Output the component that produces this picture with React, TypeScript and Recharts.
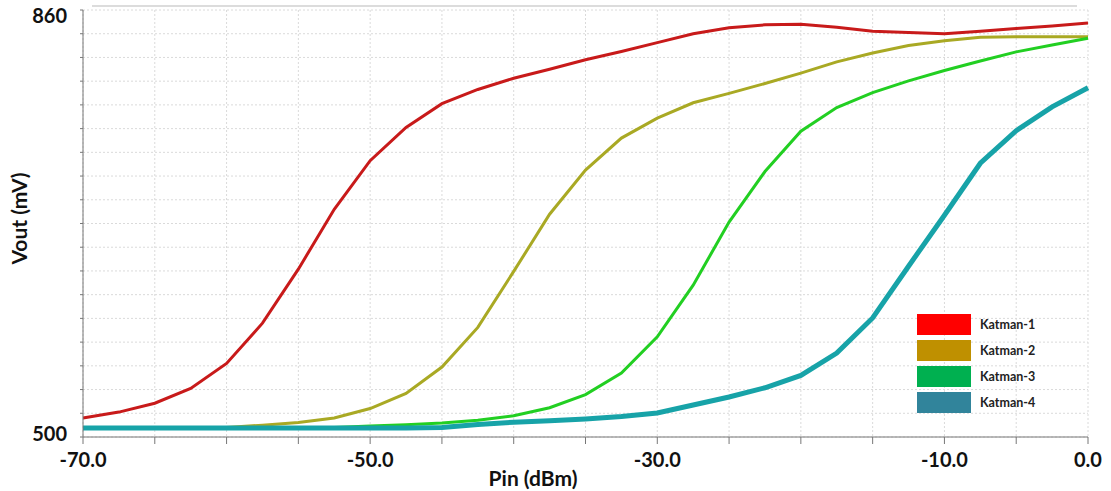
import { LineChart, Line, XAxis, YAxis, CartesianGrid, Legend } from 'recharts';

// input power sweep (dBm)
const pin = [
  -70, -67.5, -65, -62.5, -60, -57.5, -55, -52.5, -50, -47.5, -45, -42.5, -40, -37.5, -35,
  -32.5, -30, -27.5, -25, -22.5, -20, -17.5, -15, -12.5, -10, -7.5, -5, -2.5, 0,
];

// Vout (mV) per stage
const katman1 = [
  516, 521, 528.5, 541, 562, 596, 641.5, 692, 733, 761, 781, 793, 802.5, 810, 818,
  825, 832.5, 840, 845, 847.5, 848, 845.5, 842, 841, 840, 842, 844.5, 846.5, 849,
];
const katman2 = [
  507.5, 507.5, 507.5, 507.5, 508, 510, 512.3, 516, 524, 536.7, 559, 592.4, 639.6, 687.8, 725,
  752, 768.8, 781.8, 789.7, 798, 806.8, 816.3, 823.8, 830, 834, 837, 837.5, 837.5, 837.5,
];
const katman3 = [
  507.5, 507.5, 507.5, 507.5, 507.6, 507.8, 507.9, 508, 509.3, 510.3, 511.8, 514.2, 517.9, 524.7, 535.8,
  554, 584.5, 628, 681.2, 723.8, 757.8, 777.7, 790.3, 800.2, 809, 817, 824.7, 830.5, 836.2,
];
const katman4 = [
  507.5, 507.5, 507.5, 507.5, 507.5, 507.5, 507.5, 507.5, 507.5, 507.5, 508, 510.6, 512.5, 513.7, 515.2,
  517.3, 520.2, 527, 533.7, 541.5, 551.9, 570.7, 600.4, 644, 687, 730.8, 758.3, 778.3, 794.5,
];

const seriesNames = ['Katman-1', 'Katman-2', 'Katman-3', 'Katman-4'];
const lineColors = ['#c81a1a', '#a9a924', '#22cf22', '#17a3a8'];
const legendColors = ['#ff0000', '#bf9000', '#00b050', '#31849b'];
const lineWidths = [3, 3, 3, 5];

const xTicks = [-70, -65, -60, -55, -50, -45, -40, -35, -30, -25, -20, -15, -10, -5, 0];
const xLabels = [-70, -50, -30, -10, 0];
const yTicks = [500, 520, 540, 560, 580, 600, 620, 640, 660, 680, 700, 720, 740, 760, 780, 800, 820, 840, 860];
const yLabels = [500, 860];

const data = pin.map((p, i) => ({
  pin: p,
  k1: katman1[i],
  k2: katman2[i],
  k3: katman3[i],
  k4: katman4[i],
}));

const FONT = 'Lato, "Open Sans", sans-serif';

const XTick = ({ x, y, payload }: any) => {
  if (!xLabels.includes(payload.value)) return null;
  return (
    <text x={x} y={y} dy={21} textAnchor="middle" fontFamily={FONT} fontWeight={700} fontSize={20} fill="#111">
      {Number(payload.value).toFixed(1)}
    </text>
  );
};

const YTick = ({ x, y, payload }: any) => {
  if (!yLabels.includes(payload.value)) return null;
  return (
    <text x={x} y={y} dy={payload.value === 860 ? 13 : 4} textAnchor="end" fontFamily={FONT} fontWeight={700} fontSize={20} fill="#111">
      {payload.value}
    </text>
  );
};

const YLabel = ({ viewBox }: any) => {
  const cx = viewBox.x + 18;
  const cy = viewBox.y + viewBox.height / 2 - 5;
  return (
    <text x={cx} y={cy} transform={`rotate(-90 ${cx} ${cy})`} textAnchor="middle" dominantBaseline="central"
      fontFamily={FONT} fontWeight={700} fontSize={21} fill="#111">
      Vout (mV)
    </text>
  );
};

const XLabel = ({ viewBox }: any) => {
  const cx = viewBox.x + 450;
  const cy = viewBox.y + 40;
  return (
    <text x={cx} y={cy} textAnchor="middle" dominantBaseline="central" fontFamily={FONT} fontWeight={700} fontSize={21} fill="#111">
      Pin (dBm)
    </text>
  );
};

const LegendBox = () => (
  <div>
    {seriesNames.map((name, i) => (
      <div key={name} style={{ display: 'flex', alignItems: 'center', height: 26 }}>
        <div style={{ width: 54, height: 21, background: legendColors[i] }} />
        <span style={{ marginLeft: 9, fontFamily: FONT, fontWeight: 700, fontSize: 12.5, color: '#222' }}>{name}</span>
      </div>
    ))}
  </div>
);

export default function App() {
  return (
    <div style={{ position: 'absolute', left: 0, top: 0, width: 1111, height: 491, background: '#fff' }}>
      <div style={{ position: 'absolute', left: 92, top: 5, width: 985, height: 2, background: '#dcdcdc' }} />
      <LineChart width={1111} height={491} data={data} margin={{ top: 10, right: 23, bottom: 0, left: 0 }}>
        <CartesianGrid stroke="#dadada" strokeDasharray="2 2" />
        <XAxis
          dataKey="pin"
          type="number"
          domain={[-70, 0]}
          ticks={xTicks}
          interval={0}
          height={54}
          tickSize={7}
          stroke="#777"
          tick={<XTick />}
          label={<XLabel />}
        />
        <YAxis
          type="number"
          domain={[500, 860]}
          ticks={yTicks}
          interval={0}
          width={83}
          tickSize={3}
          tickMargin={13}
          stroke="#777"
          tick={<YTick />}
          label={<YLabel />}
        />
        <Legend
          layout="vertical"
          align="center"
          verticalAlign="middle"
          content={<LegendBox />}
          wrapperStyle={{ left: 917, top: 311, width: 140 }}
        />
        <Line type="linear" dataKey="k1" name={seriesNames[0]} stroke={lineColors[0]} strokeWidth={lineWidths[0]} dot={false} isAnimationActive={false} />
        <Line type="linear" dataKey="k2" name={seriesNames[1]} stroke={lineColors[1]} strokeWidth={lineWidths[1]} dot={false} isAnimationActive={false} />
        <Line type="linear" dataKey="k3" name={seriesNames[2]} stroke={lineColors[2]} strokeWidth={lineWidths[2]} dot={false} isAnimationActive={false} />
        <Line type="linear" dataKey="k4" name={seriesNames[3]} stroke={lineColors[3]} strokeWidth={lineWidths[3]} dot={false} isAnimationActive={false} />
      </LineChart>
    </div>
  );
}
